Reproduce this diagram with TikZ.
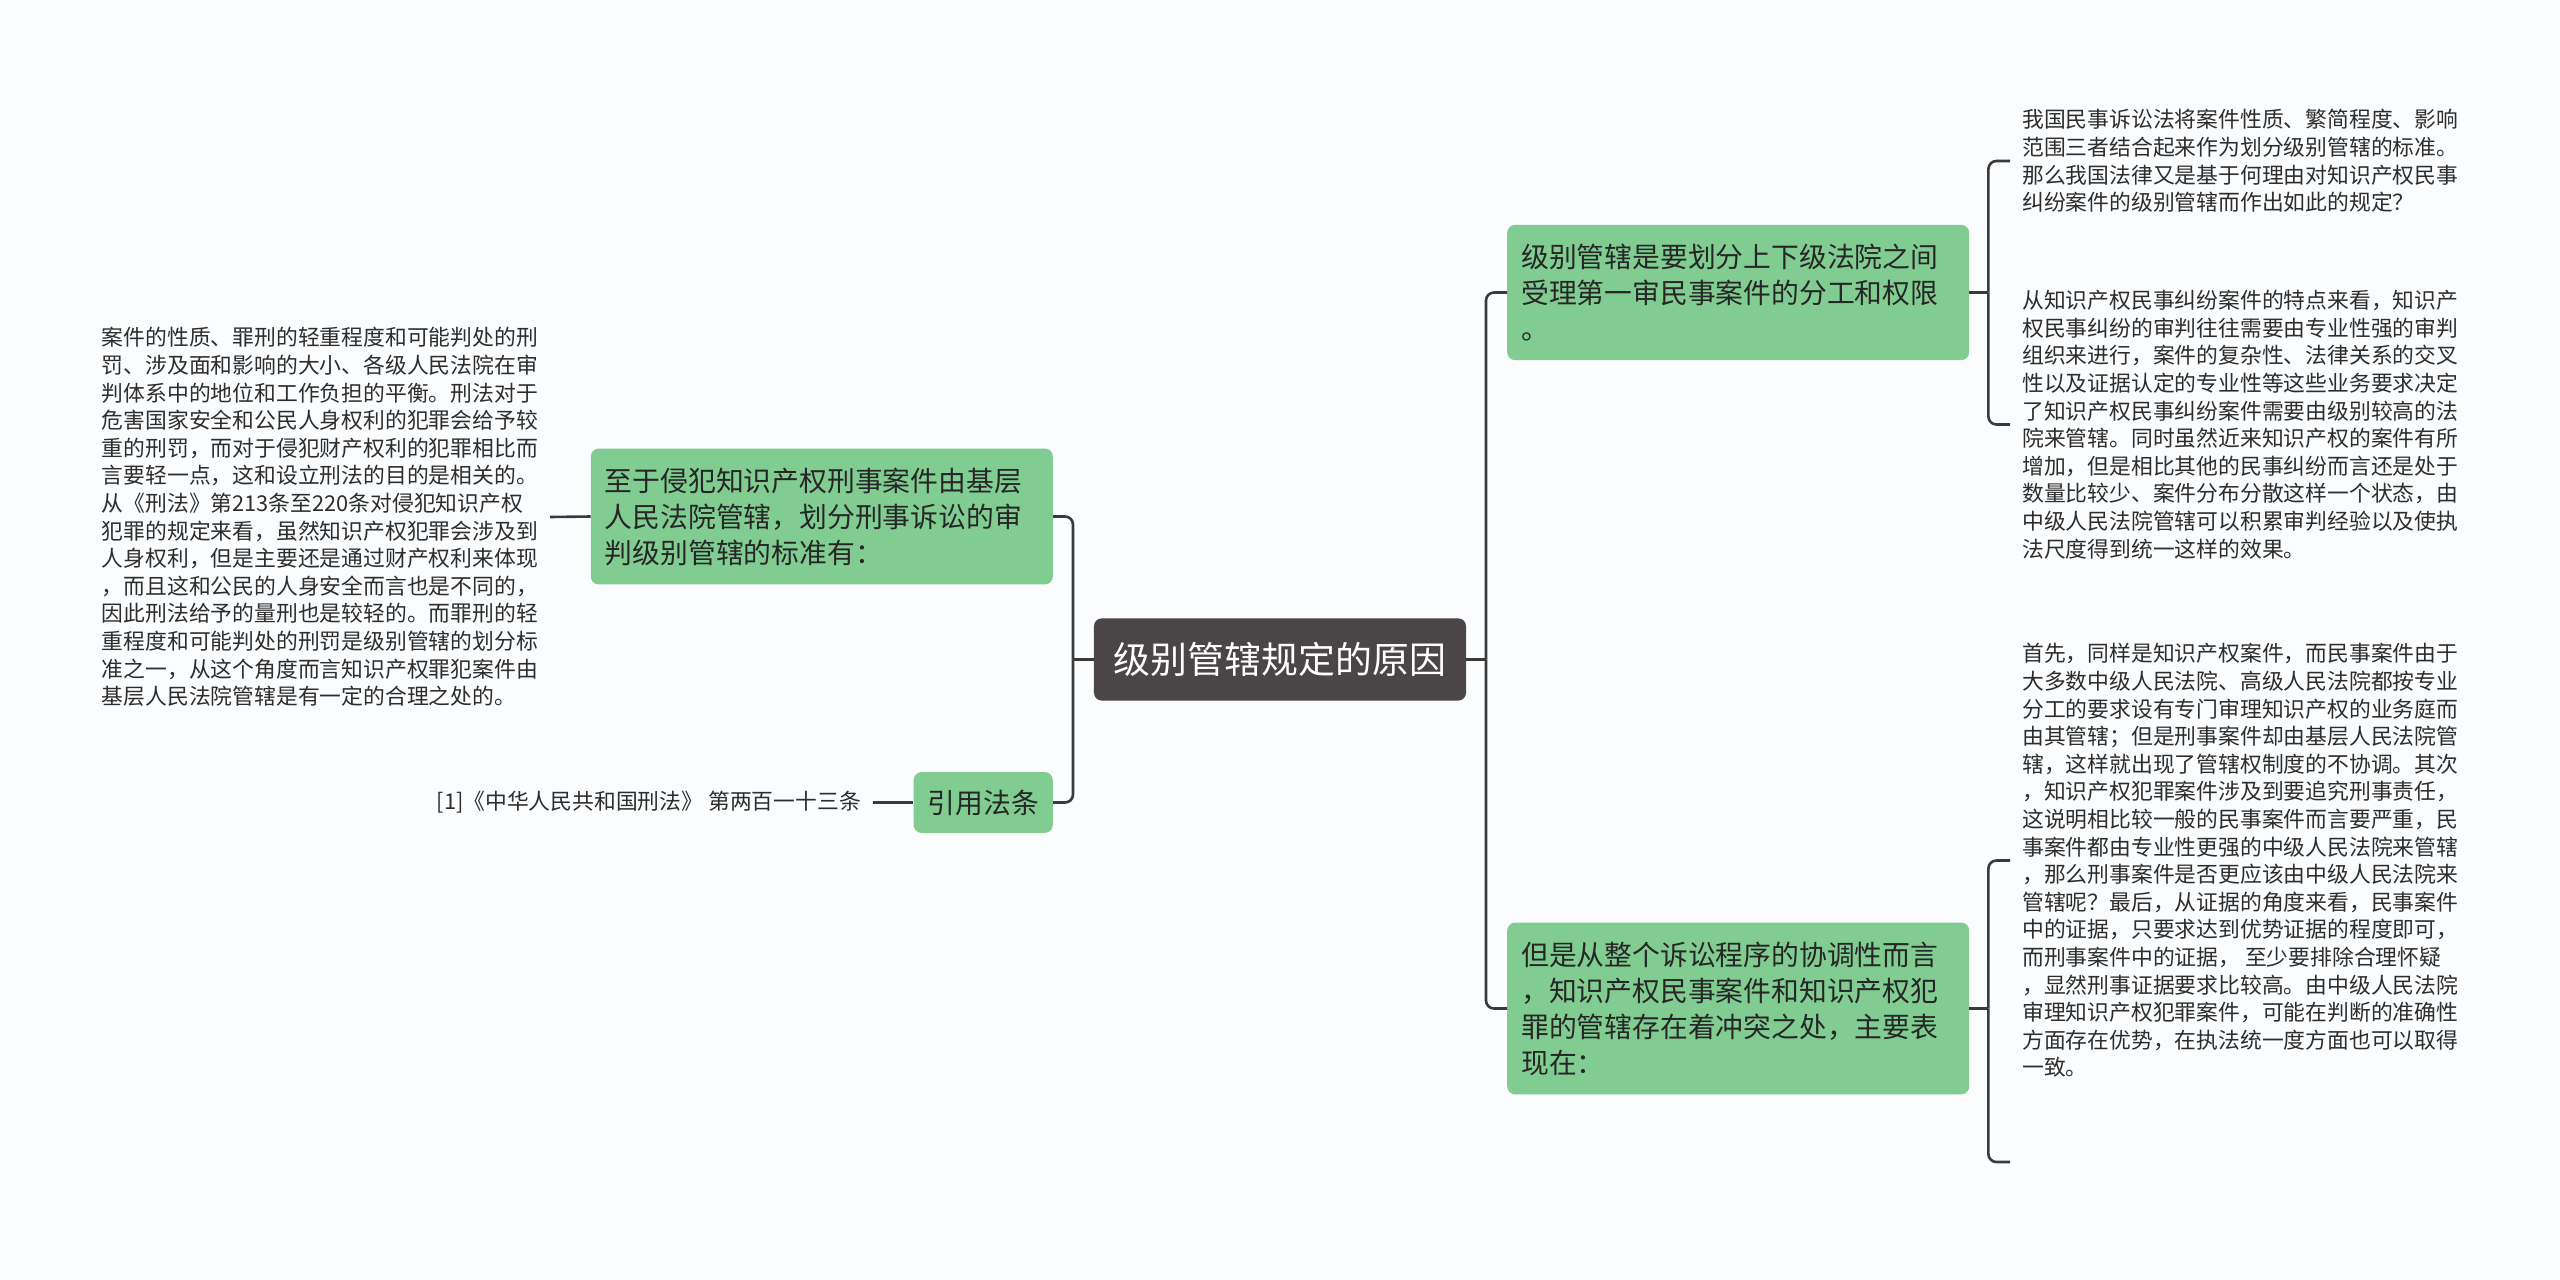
\documentclass[tikz,border=0pt]{standalone}
\usepackage{fontspec}
\setmainfont{Noto Sans CJK SC}
\usetikzlibrary{positioning}
\definecolor{boxgreen}{RGB}{128,204,145}
\definecolor{rootgray}{RGB}{74,69,70}
\definecolor{linkgray}{RGB}{58,58,58}
\definecolor{leafgray}{RGB}{45,45,45}
\definecolor{pagebg}{RGB}{250,252,254}
\tikzset{
  rootbox/.style={fill=rootgray, text=white, rounded corners=8pt, inner xsep=20pt, inner ysep=24pt, font=\fontsize{36.9}{44}\selectfont},
  topic/.style={fill=boxgreen, text=black!85, rounded corners=8pt, inner xsep=14pt, inner ysep=19pt, align=left, font=\fontsize{27.8}{36}\selectfont},
  leaf/.style={text=leafgray, inner xsep=12pt, inner ysep=3pt, align=left, font=\fontsize{21.8}{27.6}\selectfont},
  link/.style={draw=linkgray, line width=2.6pt, rounded corners=8pt}
}

\begin{document}
\begin{tikzpicture}[x=1pt,y=-1pt]
  \fill[pagebg] (0,0) rectangle (2560,1280);
  \useasboundingbox (0,0) rectangle (2560,1280);

  \node[rootbox] (root) at (1280,659.5) {级别管辖规定的原因};

  % right side
  \node[topic, text width=434pt, anchor=west] (civil) at (1507,292.5)
    {级别管辖是要划分上下级法院之间\\受理第一审民事案件的分工和权限\\。};
  \node[topic, text width=434pt, anchor=west] (conflict) at (1507,1008.5)
    {但是从整个诉讼程序的协调性而言\\，知识产权民事案件和知识产权犯\\罪的管辖存在着冲突之处，主要表\\现在：};

  \node[leaf, anchor=west] (civA) at (2010,161)
    {我国民事诉讼法将案件性质、繁简程度、影响\\范围三者结合起来作为划分级别管辖的标准。\\那么我国法律又是基于何理由对知识产权民事\\纠纷案件的级别管辖而作出如此的规定？};
  \node[leaf, anchor=west] (civB) at (2010,424.5)
    {从知识产权民事纠纷案件的特点来看，知识产\\权民事纠纷的审判往往需要由专业性强的审判\\组织来进行，案件的复杂性、法律关系的交叉\\性以及证据认定的专业性等这些业务要求决定\\了知识产权民事纠纷案件需要由级别较高的法\\院来管辖。同时虽然近来知识产权的案件有所\\增加，但是相比其他的民事纠纷而言还是处于\\数量比较少、案件分布分散这样一个状态，由\\中级人民法院管辖可以积累审判经验以及使执\\法尺度得到统一这样的效果。};
  \node[leaf, anchor=west] (confA) at (2010,860.5)
    {首先，同样是知识产权案件，而民事案件由于\\大多数中级人民法院、高级人民法院都按专业\\分工的要求设有专门审理知识产权的业务庭而\\由其管辖；但是刑事案件却由基层人民法院管\\辖，这样就出现了管辖权制度的不协调。其次\\，知识产权犯罪案件涉及到要追究刑事责任，\\这说明相比较一般的民事案件而言要严重，民\\事案件都由专业性更强的中级人民法院来管辖\\，那么刑事案件是否更应该由中级人民法院来\\管辖呢？最后，从证据的角度来看，民事案件\\中的证据，只要求达到优势证据的程度即可，\\而刑事案件中的证据， 至少要排除合理怀疑\\，显然刑事证据要求比较高。由中级人民法院\\审理知识产权犯罪案件，可能在判断的准确性\\方面存在优势，在执法统一度方面也可以取得\\一致。};
  \coordinate (confB) at (2010,1162);

  % left side
  \node[topic, text width=434pt, anchor=east] (crim) at (1053,516.5)
    {至于侵犯知识产权刑事案件由基层\\人民法院管辖，划分刑事诉讼的审\\判级别管辖的标准有：};
  \node[topic, inner ysep=17.5pt, anchor=east] (cite) at (1053,802.5) {引用法条};

  \node[leaf, anchor=east] (crimtxt) at (550,517)
    {案件的性质、罪刑的轻重程度和可能判处的刑\\罚、涉及面和影响的大小、各级人民法院在审\\判体系中的地位和工作负担的平衡。刑法对于\\危害国家安全和公民人身权利的犯罪会给予较\\重的刑罚，而对于侵犯财产权利的犯罪相比而\\言要轻一点，这和设立刑法的目的是相关的。\\从《刑法》第213条至220条对侵犯知识产权\\犯罪的规定来看，虽然知识产权犯罪会涉及到\\人身权利，但是主要还是通过财产权利来体现\\，而且这和公民的人身安全而言也是不同的，\\因此刑法给予的量刑也是较轻的。而罪刑的轻\\重程度和可能判处的刑罚是级别管辖的划分标\\准之一，从这个角度而言知识产权罪犯案件由\\基层人民法院管辖是有一定的合理之处的。};
  \node[leaf, anchor=east] (citetxt) at (873,802.5)
    {[1]《中华人民共和国刑法》 第两百一十三条};

  % connectors
  \coordinate (jr) at (1486,659.5);
  \coordinate (jl) at (1073,659.5);
  \draw[link] (root.east) -- (jr);
  \draw[link] (jr) |- (civil.west);
  \draw[link] (jr) |- (conflict.west);
  \draw[link] (root.west) -- (jl);
  \draw[link] (jl) |- (crim.east);
  \draw[link] (jl) |- (cite.east);

  \draw[link] (civil.east) -- ++(19,0) coordinate (bc);
  \draw[link] (bc) |- (civA.west);
  \draw[link] (bc) |- (civB.west);
  \draw[link] (conflict.east) -- ++(19,0) coordinate (bk);
  \draw[link] (bk) |- (confA.west);
  \draw[link] (bk) |- (confB);

  \draw[link] (crim.west) -- (crimtxt.east);
  \draw[link] (cite.west) -- (citetxt.east);
\end{tikzpicture}
\end{document}
